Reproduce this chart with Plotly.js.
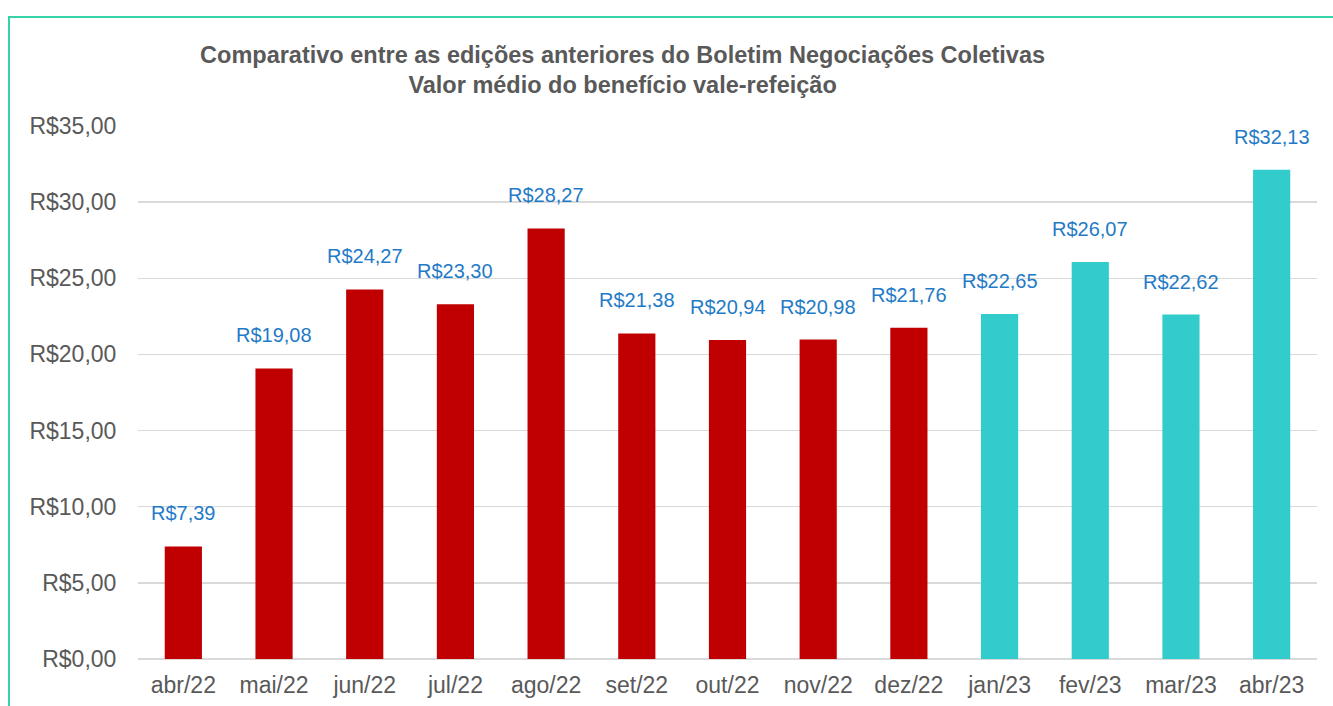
<!DOCTYPE html>
<html>
<head>
<meta charset="utf-8">
<script src="https://cdn.plot.ly/plotly-3.0.1.min.js"></script>
<style>
html,body{margin:0;padding:0;background:#fff;}
#wrap{position:relative;width:1333px;height:706px;}
#chart{position:absolute;left:0;top:0;width:1333px;height:706px;}
#frame{position:absolute;left:8px;top:16px;width:1330px;height:700px;border-top:2px solid #36D3A9;border-left:2px solid #36D3A9;pointer-events:none;}
</style>
</head>
<body>
<div id="wrap"><div id="chart"></div><div id="frame"></div></div>
<script>
const months = ["abr/22","mai/22","jun/22","jul/22","ago/22","set/22","out/22","nov/22","dez/22","jan/23","fev/23","mar/23","abr/23"];
const values = [7.39,19.08,24.27,23.30,28.27,21.38,20.94,20.98,21.76,22.65,26.07,22.62,32.13];
const valueLabels = ["R$7,39","R$19,08","R$24,27","R$23,30","R$28,27","R$21,38","R$20,94","R$20,98","R$21,76","R$22,65","R$26,07","R$22,62","R$32,13"];
const yTickVals = [0,5,10,15,20,25,30,35];
const yTickText = ["R$0,00","R$5,00","R$10,00","R$15,00","R$20,00","R$25,00","R$30,00","R$35,00"];

const barColors = months.map(m => m.endsWith("/22") ? "#C00000" : "#33CCCC");

const trace = {
  type: "bar",
  x: months,
  y: values,
  marker: {color: barColors},
  hoverinfo: "none"
};

const annotations = months.map((m,i) => ({
  x: m, y: values[i], xref: "x", yref: "y",
  text: valueLabels[i], showarrow: false,
  yanchor: "bottom", yshift: 20,
  font: {family: "Liberation Sans, Arial, sans-serif", size: 20, color: "#1F7BC7"}
}));

const layout = {
  width: 1333, height: 706,
  margin: {l: 138, r: 16, t: 126, b: 47},
  paper_bgcolor: "#ffffff",
  plot_bgcolor: "#ffffff",
  bargap: 0.59,
  showlegend: false,
  title: {
    text: "<b>Comparativo entre as edições anteriores do Boletim Negociações Coletivas<br>Valor médio do benefício vale-refeição</b>",
    x: 0.411, xref: "paper", xanchor: "center",
    y: 0.911, yref: "container", yanchor: "middle",
    font: {family: "Liberation Sans, Arial, sans-serif", size: 23.5, color: "#595959"}
  },
  xaxis: {
    type: "category",
    showgrid: false, showline: false, zeroline: false,
    ticks: "outside", ticklen: 5, tickcolor: "rgba(0,0,0,0)",
    tickfont: {family: "Liberation Sans, Arial, sans-serif", size: 23, color: "#595959"}
  },
  yaxis: {
    range: [0, 35],
    tickvals: yTickVals, ticktext: yTickText,
    showgrid: true, gridcolor: "#D9D9D9", gridwidth: 1.5,
    zeroline: true, zerolinecolor: "#D9D9D9", zerolinewidth: 1.5,
    showline: false,
    ticks: "outside", ticklen: 16, tickcolor: "rgba(0,0,0,0)",
    tickfont: {family: "Liberation Sans, Arial, sans-serif", size: 23, color: "#595959"}
  },
  annotations: annotations
};

Plotly.newPlot("chart", [trace], layout, {displayModeBar: false, staticPlot: true});
</script>
</body>
</html>
